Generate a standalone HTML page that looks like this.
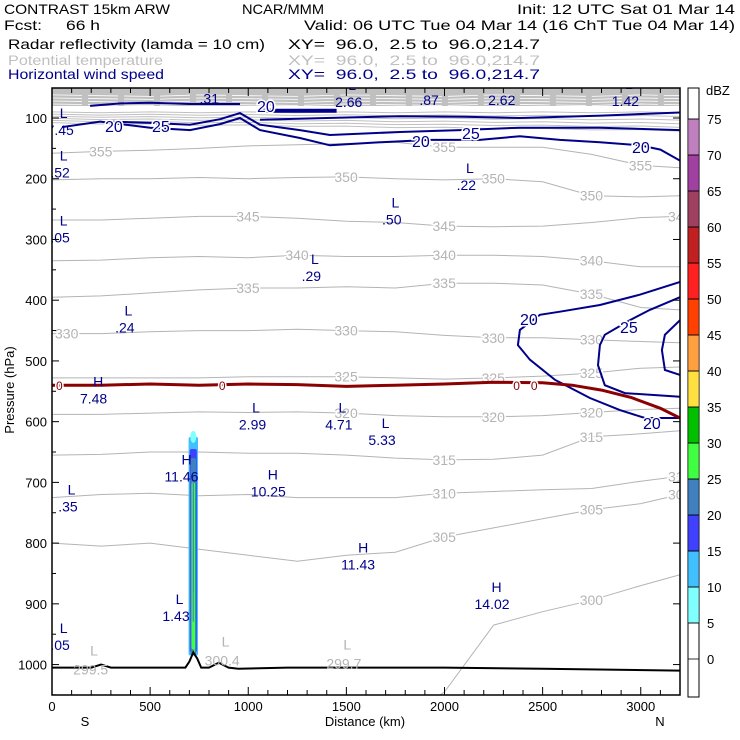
<!DOCTYPE html>
<html><head><meta charset="utf-8">
<style>
html,body{margin:0;padding:0;background:#fff;}
svg{display:block;font-family:"Liberation Sans",sans-serif;}
.hd{font-size:14px;fill:#000;white-space:pre;}
</style></head>
<body>
<svg id="chart" width="740" height="740" viewBox="0 0 740 740" xmlns="http://www.w3.org/2000/svg">
  <g>
    <text class="hd" x="4" y="14" textLength="166" lengthAdjust="spacingAndGlyphs">CONTRAST 15km ARW</text>
    <text class="hd" x="242" y="14" textLength="82" lengthAdjust="spacingAndGlyphs">NCAR/MMM</text>
    <text class="hd" x="517" y="14" textLength="218" lengthAdjust="spacingAndGlyphs">Init: 12 UTC Sat 01 Mar 14</text>
    <text class="hd" x="4" y="30" textLength="38" lengthAdjust="spacingAndGlyphs">Fcst:</text>
    <text class="hd" x="66" y="30" textLength="34" lengthAdjust="spacingAndGlyphs">66 h</text>
    <text class="hd" x="304" y="30" textLength="431" lengthAdjust="spacingAndGlyphs">Valid: 06 UTC Tue 04 Mar 14 (16 ChT Tue 04 Mar 14)</text>
    <text class="hd" x="8" y="49" textLength="257" lengthAdjust="spacingAndGlyphs">Radar reflectivity (lamda = 10 cm)</text>
    <text class="hd" x="288" y="49" textLength="252" lengthAdjust="spacingAndGlyphs">XY=  96.0,  2.5 to  96.0,214.7</text>
    <text class="hd" x="8" y="65" textLength="155" lengthAdjust="spacingAndGlyphs" style="fill:#c0c0c0">Potential temperature</text>
    <text class="hd" x="288" y="65" textLength="252" lengthAdjust="spacingAndGlyphs" style="fill:#c0c0c0">XY=  96.0,  2.5 to  96.0,214.7</text>
    <text class="hd" x="8" y="79" textLength="156" lengthAdjust="spacingAndGlyphs" style="fill:#00008b">Horizontal wind speed</text>
    <text class="hd" x="288" y="79" textLength="252" lengthAdjust="spacingAndGlyphs" style="fill:#00008b">XY=  96.0,  2.5 to  96.0,214.7</text>
  </g>
  <defs><clipPath id="pc"><rect x="52" y="88" width="628" height="607"/></clipPath></defs>
  <g id="plot" clip-path="url(#pc)"></g>
  <rect x="52" y="88" width="628" height="607" fill="none" stroke="#000" stroke-width="1.5"/>
  <g id="axes"></g>
  <g id="cbar"></g>
</svg>
<script>
// ---- data ----
const pTicks = [100,200,300,400,500,600,700,800,900,1000];
const dTicks = [0,500,1000,1500,2000,2500,3000];
const dbzLevels = [0,5,10,15,20,25,30,35,40,45,50,55,60,65,70,75];
const dbzColors = ['#ffffff','#80ffff','#40c0ff','#4040ff','#4080c0','#40ff40','#00c000','#ffe040','#ffa040','#ff4000','#ff2020','#c02020','#a04060','#a040a0','#c080c0','#ffffff'];
const dist = [0,250,500,750,1000,1250,1500,1750,2000,2250,2500,2750,3000,3200];
const thetaLevels = [300,305,310,315,320,325,330,335,340,345,350,355];
const th300 = [1100,1100,1100,1100,1100,1100,1100,1100,1045,935,913,894,870,852];
const th305 = [800,805,800,810,820,830,820,815,790,775,760,745,735,720];
const th310 = [725,720,718,722,720,725,725,725,718,715,712,710,698,690];
const th315 = [655,654,650,650,652,652,655,660,663,662,655,625,620,615];
const th320 = [588,588,586,584,585,584,586,590,592,592,590,585,580,578];
const th325 = [528,528,528,528,526,526,526,528,530,528,525,520,512,510];
const th330 = [455,455,452,450,450,448,450,452,458,462,462,465,468,470];
const th335 = [395,393,388,383,380,380,378,380,372,372,375,390,412,416];
const th340 = [335,334,330,328,330,326,328,328,326,326,328,335,345,345];
const th345 = [268,268,265,262,262,265,270,272,278,279,278,272,264,262];
const th350 = [202,200,200,198,200,198,197,200,202,200,205,228,230,228];
const th355 = [158,155,153,150,146,144,142,140,148,148,148,160,178,182];
const thetaSeries = [th300,th305,th310,th315,th320,th325,th330,th335,th340,th345,th350,th355];
// label positions along each isentrope (indices into dist)
const thetaLabelIdx = [[11],[8,11,13],[8,13],[8,11],[6,9,11],[6,9,11],[0,6,9,11],[4,8,11],[5,8,11],[4,8,13],[6,9,11],[1,8,12]];
// wind jet contours (dist km, p hPa)
const jet20d = [51,245,500,703,856,958,1060,1263,1416,1671,1926,2180,2384,2588,2792,2995,3100,3199];
const jet20p = [115,106,116,120,110,100,120,133,145,140,136,136,130,136,140,145,152,170];
const jet25d = [295,500,703,856,958,1060,1263,1416,1773,2079,2384,2792,3199];
const jet25p = [106,108,111,102,92,111,120,128,123,120,116,116,120];
const jet20bd = [1060,1400,1773,2100,2384,2800,3199];
const jet20bp = [103,100,97,98,100,96,91];
const jetTopd = [194,350,500,703,958];
const jetTopp = [80,76,75,77,77];
const jetSegD = [1070,1450];
const jetSegP = [88,88];
const w20d = [3200,2995,2792,2588,2486,2384,2374,2435,2562,2741,2894,3021,3200];
const w20p = [370,391,408,419,424,449,474,498,531,561,581,594,594];
const w25d = [3200,3046,2944,2817,2792,2782,2817,2919,3200];
const w25p = [395,416,433,457,474,507,540,553,559];
const w30d = [3200,3123,3108,3123,3200];
const w30p = [433,457,482,515,523];
// freezing level
const frzD = [0,250,500,750,1000,1250,1500,1750,2000,2250,2500,2650,2800,2950,3100,3200];
const frzP = [540,540,538,540,538,539,542,540,538,535,536,540,548,560,578,594];
// terrain
const terD = [0,200,250,300,600,680,700,720,740,760,800,850,900,950,1200,2000,2500,3200];
const terP = [1005,1005,1000,1005,1005,1005,995,980,990,1005,1005,997,1005,1007,1005,1005,1007,1010];
// radar column
const colDbz = [10,15,20,25,20];
const colBot = [985,980,985,975,930];
const colTop = [625,645,660,700,700];
const colHalf = [24,18,14,9,3];
// extrema labels
const extLab = ['L','L','L','L','L','L','H','L','L','L','L','L','H','L','L','H','H','L','H','L','L','L','L'];
const extVal = ['7.45','.31','2.66','.87','2.62','1.42','7.48','2.99','4.71','5.33','.52','.22','11.46','.05','.50','10.25','11.43','.29','14.02','.35','.24','1.43','.05'];
const extD = [60,820,1530,1940,2310,2940,230,1040,1480,1700,60,2130,680,60,1750,1120,1580,1340,2260,100,390,650,60];
const extP = [120,68,74,70,70,72,562,605,605,630,190,210,690,968,267,715,835,360,900,740,445,920,297];

// ---- scales ----
const X0=52, X1=680, Y0=88, Y1=695;
const xs = d => X0 + d*(X1-X0)/3200;
const ys = p => 118 + (p-100)*0.6073;
const NS='http://www.w3.org/2000/svg';
const plot=document.getElementById('plot'), axes=document.getElementById('axes'), cbar=document.getElementById('cbar');
function mk(tag, attrs, parent){const e=document.createElementNS(NS,tag);for(const k in attrs)e.setAttribute(k,attrs[k]);parent.appendChild(e);return e;}
function pathFrom(ds,ps){return ds.map((d,i)=>(i?'L':'M')+xs(d).toFixed(1)+' '+ys(ps[i]).toFixed(1)).join(' ');}

// top dense isentropes band
let band=mk('rect',{x:X0,y:Y0,width:X1-X0,height:106-Y0,fill:'#c0c0c0'},plot);


for(let k=0;k<5;k++){
  const ps=dist.map((d,i)=>62+k*5+(i%3)*1.2);
  let w=mk('path',{d:pathFrom(dist,ps),stroke:'#ffffff',fill:'none','stroke-width':0.8,'stroke-dasharray':'30 6'},plot);
  
  
}
for(let k=0;k<6;k++){
  const ps=dist.map((d,i)=>90+k*3.5+(i%2)*1.5+(i/13)*(k*2.5));
  let g=mk('path',{d:pathFrom(dist,ps),stroke:'#c0c0c0',fill:'none','stroke-width':1},plot);
  
  
}

// isentropes
thetaSeries.forEach((ps,j)=>{
  let e=mk('path',{d:pathFrom(dist,ps),stroke:'#b4b4b4',fill:'none','stroke-width':1},plot);
  
  
  thetaLabelIdx[j].forEach(idx=>{
    if(ps[idx]>1000) return;
    const t=mk('text',{x:xs(dist[idx])-(idx===0?-3:12),y:ys(ps[idx])+5,'font-size':14,fill:'#b4b4b4',stroke:'#fff','stroke-width':3,'paint-order':'stroke'},plot);
    t.textContent=thetaLevels[j];
    
    
  });
});

// radar column
colDbz.forEach((v,i)=>{
  const c=dbzColors[dbzLevels.indexOf(v)];
  const r=mk('rect',{x:xs(720-colHalf[i]),y:ys(colTop[i]),width:xs(720+colHalf[i])-xs(720-colHalf[i]),height:ys(colBot[i])-ys(colTop[i]),fill:c,rx:2},plot);
  
  
});
let tip=mk('ellipse',{cx:xs(720),cy:ys(625),rx:3,ry:6,fill:'#80ffff'},plot);


let gl=mk('line',{x1:xs(725),x2:xs(725),y1:ys(880),y2:ys(985),stroke:'#40ff40','stroke-width':1},plot);



// wind contours
[[jet20d,jet20p,'wind-20-jet',2],[jet25d,jet25p,'wind-25-jet',2],[jet20bd,jet20bp,'wind-20-upper',2],[jetTopd,jetTopp,'wind-20-top',2],[jetSegD,jetSegP,'wind-jet-core',4],[w20d,w20p,'wind-20-exit',2],[w25d,w25p,'wind-25-exit',2],[w30d,w30p,'wind-30-exit',2]].forEach(s=>{
  let e=mk('path',{d:pathFrom(s[0],s[1]),stroke:'#00008b',fill:'none','stroke-width':s[3]},plot);
  
  
});
[['20',113,126],['25',160,126],['20',265,106],['20',420,141],['25',470,133],['20',640,147],['20',528,319],['25',628,327],['20',651,423]].forEach(a=>{
  const t=mk('text',{x:a[1]-8,y:a[2]+6,'font-size':16,fill:'#00008b',stroke:'#fff','stroke-width':3,'paint-order':'stroke'},plot);
  t.textContent=a[0];
  
  
});

// freezing level
let fz=mk('path',{d:pathFrom(frzD,frzP),stroke:'#8b0000',fill:'none','stroke-width':3},plot);


[[0],[830],[2330],[2420]].forEach(a=>{
  const t=mk('text',{x:xs(a[0])+4,y:ys(540)+5,'font-size':12,fill:'#8b0000',stroke:'#fff','stroke-width':3,'paint-order':'stroke'},plot);
  t.textContent='0';
  
  
});

// terrain
let tr=mk('path',{d:pathFrom(terD,terP),stroke:'#000',fill:'none','stroke-width':2},plot);


[['L','299.5',220,1005],['L','300.4',890,990],['L','299.7',1510,995]].forEach(a=>{
  const t1=mk('text',{x:xs(a[2])-5,y:ys(a[3])-12,'font-size':14,fill:'#b4b4b4'},plot); t1.textContent=a[0];
  
  
  const t2=mk('text',{x:xs(a[2])-22,y:ys(a[3])+7,'font-size':14,fill:'#b4b4b4'},plot); t2.textContent=a[1];
  
  
});

// extrema labels
extLab.forEach((l,i)=>{
  const x=xs(extD[i]), y=ys(extP[i]);
  const t1=mk('text',{x:x-4,y:y-12,'font-size':14,fill:'#00008b'},plot); t1.textContent=l;
  
  
  const t2=mk('text',{x:x-2-extVal[i].length*3.8,y:y+5,'font-size':14,fill:'#00008b'},plot); t2.textContent=extVal[i];
  
  
});

// axes
pTicks.forEach(p=>{
  const y=ys(p);
  let l=mk('line',{x1:X0,x2:X0+7,y1:y,y2:y,stroke:'#000'},axes);
  
  
  let r=mk('line',{x1:X1-7,x2:X1,y1:y,y2:y,stroke:'#000'},axes);
  
  
  const t=mk('text',{x:X0-5,y:y+5,'font-size':13,'text-anchor':'end'},axes); t.textContent=p;
  
  
});
for(let p=150;p<=1050;p+=100){
  let m=mk('line',{x1:X0,x2:X0+4,y1:ys(p),y2:ys(p),stroke:'#000'},axes);
  
  
}
for(let d=0;d<=3200;d+=100){
  const big=d%500===0;
  let b=mk('line',{x1:xs(d),x2:xs(d),y1:Y1,y2:Y1-(big?8:5),stroke:'#000'},axes);
  
  
  let tt=mk('line',{x1:xs(d),x2:xs(d),y1:Y0,y2:Y0+(big?8:5),stroke:'#000'},axes);
  
  
}
dTicks.forEach(d=>{
  const t=mk('text',{x:xs(d),y:711,'font-size':13,'text-anchor':'middle'},axes); t.textContent=d;
  
  
});
[['S',85,726,'south-label'],['N',660,726,'north-label'],['Distance (km)',365,726,'x-axis-title']].forEach(a=>{
  const t=mk('text',{x:a[1],y:a[2],'font-size':13,'text-anchor':'middle'},axes); t.textContent=a[0];
  
  
});
const yt=mk('text',{x:14,y:390,'font-size':13,'text-anchor':'middle',transform:'rotate(-90 14 390)'},axes);
yt.textContent='Pressure (hPa)';



// colorbar
const cbTop=88, cbBot=697, cx=688, cw=11;
const cy = v => 659 - v*36/5;
let cbw=mk('rect',{x:cx,y:cbTop,width:cw,height:cbBot-cbTop,fill:'#fff',stroke:'#000'},cbar);


dbzLevels.forEach((v,i)=>{
  if(i===0||i===dbzLevels.length-1) return;
  const r=mk('rect',{x:cx,y:cy(v+5),width:cw,height:cy(v)-cy(v+5),fill:dbzColors[i],stroke:'#000','stroke-width':0.5},cbar);
  
  
});
dbzLevels.forEach(v=>{
  let l=mk('line',{x1:cx,x2:cx+cw,y1:cy(v),y2:cy(v),stroke:'#000','stroke-width':0.8},cbar);
  
  
  const t=mk('text',{x:707,y:cy(v)+5,'font-size':13},cbar); t.textContent=v;
  
  
});
const u=mk('text',{x:706,y:95,'font-size':13},cbar); u.textContent='dBZ';


</script>
</body></html>
